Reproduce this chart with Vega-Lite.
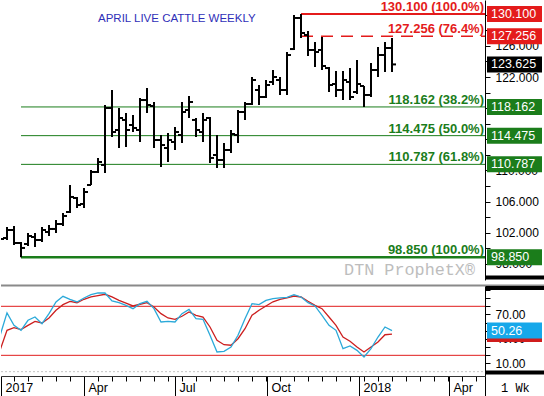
{
  "$schema": "https://vega.github.io/schema/vega-lite/v6.json",
  "padding": 0,
  "spacing": 3,
  "background": "white",
  "config": {
    "view": {"stroke": null},
    "axis": {"labelFont": "Liberation Sans", "grid": false},
    "text": {"font": "Liberation Sans"}
  },
  "resolve": {"scale": {"x": "shared", "y": "independent", "color": "independent"}},
  "datasets": {
    "weekly": [
      {"date": "2017-01-07", "open": 102.10, "high": 102.61, "low": 100.82, "close": 101.20, "k": 44, "d": 26},
      {"date": "2017-01-14", "open": 101.33, "high": 102.74, "low": 101.07, "close": 102.36, "k": 72, "d": 50.6},
      {"date": "2017-01-21", "open": 102.36, "high": 102.87, "low": 100.43, "close": 100.69, "k": 56.7, "d": 53.8},
      {"date": "2017-01-28", "open": 100.69, "high": 100.82, "low": 98.85, "close": 100.05, "k": 50.6, "d": 51.4},
      {"date": "2017-02-04", "open": 100.56, "high": 101.97, "low": 100.30, "close": 101.59, "k": 62.9, "d": 56.7},
      {"date": "2017-02-11", "open": 101.46, "high": 101.97, "low": 100.17, "close": 101.07, "k": 66.9, "d": 61.6},
      {"date": "2017-02-18", "open": 101.07, "high": 102.74, "low": 100.82, "close": 102.36, "k": 58.7, "d": 59.6},
      {"date": "2017-02-25", "open": 102.10, "high": 103.00, "low": 101.59, "close": 102.49, "k": 71, "d": 65.7},
      {"date": "2017-03-04", "open": 102.49, "high": 103.64, "low": 101.97, "close": 103.13, "k": 85.3, "d": 75.1},
      {"date": "2017-03-11", "open": 103.13, "high": 104.54, "low": 102.87, "close": 104.16, "k": 92.2, "d": 82},
      {"date": "2017-03-18", "open": 104.67, "high": 108.14, "low": 104.54, "close": 106.60, "k": 88.6, "d": 86.1},
      {"date": "2017-03-25", "open": 106.47, "high": 106.60, "low": 105.18, "close": 105.57, "k": 85.3, "d": 84.4},
      {"date": "2017-04-01", "open": 105.70, "high": 107.75, "low": 105.18, "close": 107.24, "k": 90.2, "d": 88.6},
      {"date": "2017-04-08", "open": 108.14, "high": 110.06, "low": 108.14, "close": 109.81, "k": 94.2, "d": 91.4},
      {"date": "2017-04-15", "open": 109.81, "high": 111.61, "low": 109.68, "close": 111.09, "k": 96.3, "d": 93.2},
      {"date": "2017-04-22", "open": 110.71, "high": 118.41, "low": 109.68, "close": 118.03, "k": 96.3, "d": 94.7},
      {"date": "2017-04-29", "open": 118.03, "high": 120.34, "low": 114.30, "close": 114.94, "k": 86.5, "d": 91.5},
      {"date": "2017-05-06", "open": 115.20, "high": 118.03, "low": 112.89, "close": 116.74, "k": 84.4, "d": 87.3},
      {"date": "2017-05-13", "open": 116.49, "high": 117.38, "low": 113.02, "close": 115.20, "k": 81.2, "d": 83.8},
      {"date": "2017-05-20", "open": 115.84, "high": 117.13, "low": 114.94, "close": 115.46, "k": 77.1, "d": 80.4},
      {"date": "2017-05-27", "open": 115.20, "high": 119.31, "low": 113.66, "close": 119.05, "k": 83.2, "d": 82.5},
      {"date": "2017-06-03", "open": 119.05, "high": 120.60, "low": 117.38, "close": 118.41, "k": 86.1, "d": 84.4},
      {"date": "2017-06-10", "open": 118.28, "high": 118.80, "low": 112.89, "close": 113.92, "k": 77.1, "d": 79.1},
      {"date": "2017-06-17", "open": 113.92, "high": 114.56, "low": 110.45, "close": 113.27, "k": 60.8, "d": 71},
      {"date": "2017-06-24", "open": 112.89, "high": 114.82, "low": 111.09, "close": 113.92, "k": 61.6, "d": 65.7},
      {"date": "2017-07-01", "open": 113.66, "high": 115.59, "low": 112.63, "close": 114.94, "k": 60.8, "d": 64.1},
      {"date": "2017-07-08", "open": 114.56, "high": 118.80, "low": 113.53, "close": 117.51, "k": 71, "d": 67.8},
      {"date": "2017-07-15", "open": 117.77, "high": 119.57, "low": 116.74, "close": 118.80, "k": 76.3, "d": 73},
      {"date": "2017-07-22", "open": 116.49, "high": 116.74, "low": 114.30, "close": 115.20, "k": 64.8, "d": 69},
      {"date": "2017-07-29", "open": 114.94, "high": 117.38, "low": 113.66, "close": 116.49, "k": 64.1, "d": 66.9},
      {"date": "2017-08-05", "open": 116.74, "high": 116.87, "low": 110.96, "close": 111.61, "k": 44.5, "d": 54.7},
      {"date": "2017-08-12", "open": 111.99, "high": 114.56, "low": 110.32, "close": 111.35, "k": 24.1, "d": 38.4},
      {"date": "2017-08-19", "open": 111.35, "high": 113.53, "low": 110.32, "close": 112.63, "k": 24.9, "d": 33},
      {"date": "2017-08-26", "open": 112.63, "high": 115.20, "low": 112.25, "close": 114.69, "k": 30.2, "d": 32.3},
      {"date": "2017-09-02", "open": 114.56, "high": 117.77, "low": 113.53, "close": 117.51, "k": 44.5, "d": 40.3},
      {"date": "2017-09-09", "open": 117.51, "high": 118.80, "low": 116.49, "close": 118.54, "k": 64.8, "d": 52.6},
      {"date": "2017-09-16", "open": 118.54, "high": 122.01, "low": 118.41, "close": 121.62, "k": 83.2, "d": 69},
      {"date": "2017-09-23", "open": 120.34, "high": 120.98, "low": 118.41, "close": 119.44, "k": 82, "d": 75.1},
      {"date": "2017-09-30", "open": 119.44, "high": 121.62, "low": 119.31, "close": 120.98, "k": 87.3, "d": 80.4},
      {"date": "2017-10-07", "open": 121.37, "high": 122.91, "low": 120.98, "close": 122.01, "k": 89.5, "d": 85.5},
      {"date": "2017-10-14", "open": 121.62, "high": 122.01, "low": 119.70, "close": 120.34, "k": 90.2, "d": 88.6},
      {"date": "2017-10-21", "open": 120.34, "high": 125.22, "low": 119.70, "close": 124.83, "k": 90.8, "d": 90.2},
      {"date": "2017-10-28", "open": 125.60, "high": 129.97, "low": 125.48, "close": 129.59, "k": 94.2, "d": 92.6},
      {"date": "2017-11-04", "open": 129.59, "high": 130.10, "low": 127.02, "close": 127.66, "k": 91.4, "d": 91.4},
      {"date": "2017-11-11", "open": 127.40, "high": 127.92, "low": 124.71, "close": 125.48, "k": 84.4, "d": 86.1},
      {"date": "2017-11-18", "open": 125.48, "high": 126.50, "low": 123.29, "close": 125.22, "k": 80.4, "d": 81.2},
      {"date": "2017-11-25", "open": 125.48, "high": 127.15, "low": 122.91, "close": 123.42, "k": 69, "d": 77.1},
      {"date": "2017-12-02", "open": 123.16, "high": 123.29, "low": 120.08, "close": 120.98, "k": 56.7, "d": 66.9},
      {"date": "2017-12-09", "open": 121.11, "high": 122.78, "low": 119.44, "close": 120.34, "k": 50.6, "d": 56.7},
      {"date": "2017-12-16", "open": 120.34, "high": 122.78, "low": 119.05, "close": 121.62, "k": 28.1, "d": 42.4},
      {"date": "2017-12-23", "open": 121.37, "high": 123.16, "low": 119.05, "close": 119.44, "k": 31.4, "d": 37.2},
      {"date": "2017-12-30", "open": 120.08, "high": 124.19, "low": 119.83, "close": 121.11, "k": 26.1, "d": 30.2},
      {"date": "2018-01-06", "open": 120.85, "high": 120.85, "low": 118.17, "close": 119.70, "k": 17.9, "d": 24.1},
      {"date": "2018-01-13", "open": 119.70, "high": 123.81, "low": 119.44, "close": 122.91, "k": 28.1, "d": 30.2},
      {"date": "2018-01-20", "open": 122.91, "high": 125.86, "low": 122.01, "close": 124.83, "k": 42.4, "d": 36.3},
      {"date": "2018-01-27", "open": 124.83, "high": 126.50, "low": 122.65, "close": 125.73, "k": 54.7, "d": 45.2},
      {"date": "2018-02-03", "open": 125.73, "high": 127.02, "low": 122.65, "close": 123.625, "k": 50.26, "d": 46}
    ],
    "fib": [
      {"price": 130.1, "label": "130.100 (100.0%)", "start": "2017-11-04", "kind": "resistance"},
      {"price": 127.256, "label": "127.256 (76.4%)", "start": "2017-11-04", "kind": "resistance"},
      {"price": 118.162, "label": "118.162 (38.2%)", "start": "2017-01-28", "kind": "support"},
      {"price": 114.475, "label": "114.475 (50.0%)", "start": "2017-01-28", "kind": "support"},
      {"price": 110.787, "label": "110.787 (61.8%)", "start": "2017-01-28", "kind": "support"},
      {"price": 98.85, "label": "98.850 (100.0%)", "start": "2017-01-28", "kind": "support"}
    ],
    "tags": [
      {"price": 130.1, "kind": "resistance"},
      {"price": 127.256, "kind": "resistance"},
      {"price": 123.625, "kind": "last"},
      {"price": 118.162, "kind": "support"},
      {"price": 114.475, "kind": "support"},
      {"price": 110.787, "kind": "support"},
      {"price": 98.85, "kind": "support"}
    ],
    "stochtags": [
      {"series": "%D", "value": 46},
      {"series": "%K", "value": 50.26}
    ]
  },
  "vconcat": [
    {
      "width": 484,
      "height": 280,
      "resolve": {"axis": {"y": "independent"}},
      "layer": [
        {
          "data": {"name": "fib"},
          "transform": [{"filter": {"field": "price", "oneOf": [118.162, 114.475, 110.787]}}],
          "mark": {"type": "rule", "color": "#1b7d1b", "strokeWidth": 1},
          "encoding": {
            "x": {"field": "start", "type": "temporal", "axis": null,
                  "scale": {"type": "utc", "domain": [{"year": 2017, "month": 1, "date": 8, "utc": true}, {"year": 2018, "month": 5, "date": 7, "utc": true}]}},
            "x2": {"datum": {"year": 2018, "month": 5, "date": 7, "utc": true}},
            "y": {"field": "price", "type": "quantitative",
                  "scale": {"domain": [95.935, 131.898], "nice": false, "zero": false},
                  "axis": {"orient": "right", "title": null, "values": [98, 100, 102, 104, 106, 108, 110, 112, 114, 116, 118, 120, 122, 124, 126, 128, 130],
                           "labelExpr": "(datum.value % 4 == 2 && datum.value != 114 && datum.value != 118 && datum.value != 130) ? format(datum.value, '.3f') : ''",
                           "tickSize": 5, "tickColor": "#000", "domainColor": "#000", "labelColor": "#000",
                           "labelFontSize": 12, "labelPadding": 5, "labelOverlap": false, "labelBound": false, "labelFlush": false}}
          }
        },
        {
          "data": {"name": "fib"},
          "transform": [{"filter": {"field": "price", "equal": 98.85}}],
          "mark": {"type": "rule", "color": "#1b7d1b", "strokeWidth": 2.5},
          "encoding": {
            "x": {"field": "start", "type": "temporal", "axis": null},
            "x2": {"datum": {"year": 2018, "month": 5, "date": 7, "utc": true}},
            "y": {"field": "price", "type": "quantitative", "axis": null}
          }
        },
        {
          "data": {"name": "fib"},
          "transform": [{"filter": {"field": "price", "equal": 130.1}}],
          "mark": {"type": "rule", "color": "#e41b1b", "strokeWidth": 2},
          "encoding": {
            "x": {"field": "start", "type": "temporal", "axis": null},
            "x2": {"datum": {"year": 2018, "month": 5, "date": 7, "utc": true}},
            "y": {"field": "price", "type": "quantitative", "axis": null}
          }
        },
        {
          "data": {"name": "fib"},
          "transform": [{"filter": {"field": "price", "equal": 127.256}}],
          "mark": {"type": "rule", "color": "#e41b1b", "strokeWidth": 1.5, "strokeDash": [12, 8]},
          "encoding": {
            "x": {"field": "start", "type": "temporal", "axis": null},
            "x2": {"datum": {"year": 2018, "month": 5, "date": 7, "utc": true}},
            "y": {"field": "price", "type": "quantitative", "axis": null}
          }
        },
        {
          "data": {"name": "weekly"},
          "mark": {"type": "rule", "color": "#000", "strokeWidth": 2, "clip": true},
          "encoding": {
            "x": {"field": "date", "type": "temporal", "axis": null},
            "y": {"field": "low", "type": "quantitative", "axis": null},
            "y2": {"field": "high"}
          }
        },
        {
          "data": {"name": "weekly"},
          "mark": {"type": "rule", "color": "#000", "strokeWidth": 2, "clip": true, "xOffset": -4},
          "encoding": {
            "x": {"field": "date", "type": "temporal", "axis": null},
            "x2": {"field": "date"},
            "y": {"field": "open", "type": "quantitative", "axis": null}
          }
        },
        {
          "data": {"name": "weekly"},
          "mark": {"type": "rule", "color": "#000", "strokeWidth": 2, "clip": true, "x2Offset": 4},
          "encoding": {
            "x": {"field": "date", "type": "temporal", "axis": null},
            "x2": {"field": "date"},
            "y": {"field": "close", "type": "quantitative", "axis": null}
          }
        },
        {
          "data": {"name": "fib"},
          "mark": {"type": "text", "align": "right", "baseline": "alphabetic", "dy": -3, "fontSize": 13, "fontWeight": "bold"},
          "encoding": {
            "x": {"datum": {"year": 2018, "month": 5, "date": 6, "utc": true}, "type": "temporal", "axis": null},
            "y": {"field": "price", "type": "quantitative", "axis": null},
            "text": {"field": "label"},
            "color": {"field": "kind", "type": "nominal", "legend": null,
                      "scale": {"domain": ["resistance", "last", "support"], "range": ["#e41b1b", "#000000", "#1b7d1b"]}}
          }
        },
        {
          "data": {"values": [{"title": "APRIL LIVE CATTLE WEEKLY"}]},
          "mark": {"type": "text", "align": "left", "baseline": "alphabetic", "fontSize": 11.5, "color": "#2f2fb8"},
          "encoding": {
            "x": {"datum": {"year": 2017, "month": 4, "date": 15, "utc": true}, "type": "temporal", "axis": null},
            "y": {"datum": 129.07, "type": "quantitative", "axis": null},
            "text": {"field": "title"}
          }
        },
        {
          "data": {"values": [{"mark": "DTN ProphetX®"}]},
          "mark": {"type": "text", "align": "right", "baseline": "alphabetic", "font": "Liberation Mono", "fontSize": 16.8, "color": "#bdbdbd"},
          "encoding": {
            "x": {"datum": {"year": 2018, "month": 4, "date": 27, "utc": true}, "type": "temporal", "axis": null},
            "y": {"datum": 96.58, "type": "quantitative", "axis": null},
            "text": {"field": "mark"}
          }
        },
        {
          "data": {"name": "tags"},
          "mark": {"type": "rect", "yOffset": -8, "y2Offset": 8, "clip": false},
          "encoding": {
            "x": {"datum": {"year": 2018, "month": 5, "date": 9, "utc": true}, "type": "temporal", "axis": null},
            "x2": {"datum": {"year": 2018, "month": 7, "date": 3, "utc": true}},
            "y": {"field": "price", "type": "quantitative", "axis": null},
            "y2": {"field": "price"},
            "color": {"field": "kind", "type": "nominal", "legend": null,
                      "scale": {"domain": ["resistance", "last", "support"], "range": ["#e41b1b", "#000000", "#1b7d1b"]}}
          }
        },
        {
          "data": {"name": "tags"},
          "mark": {"type": "text", "align": "left", "baseline": "middle", "fontSize": 12.5, "color": "#ffffff", "clip": false},
          "encoding": {
            "x": {"datum": {"year": 2018, "month": 5, "date": 13, "utc": true}, "type": "temporal", "axis": null},
            "y": {"field": "price", "type": "quantitative", "axis": null},
            "text": {"field": "price", "type": "quantitative", "format": ".3f"}
          }
        },
        {
          "data": {"values": [{}]},
          "mark": {"type": "rule", "color": "#000", "strokeWidth": 4, "clip": false},
          "encoding": {
            "x": {"datum": {"year": 2018, "month": 5, "date": 8, "utc": true}, "type": "temporal", "axis": null},
            "x2": {"datum": {"year": 2018, "month": 7, "date": 6, "utc": true}},
            "y": {"datum": 96.26, "type": "quantitative", "axis": null}
          }
        }
      ]
    },
    {
      "width": 484,
      "height": 91,
      "resolve": {"axis": {"x": "independent", "y": "independent"}},
      "layer": [
        {
          "data": {"values": [{}]},
          "mark": {"type": "rule", "color": "#8a8a8a", "strokeWidth": 2, "clip": false},
          "encoding": {
            "x": {"datum": {"year": 2017, "month": 1, "date": 8, "utc": true}, "type": "temporal", "axis": null,
                  "scale": {"type": "utc", "domain": [{"year": 2017, "month": 1, "date": 8, "utc": true}, {"year": 2018, "month": 5, "date": 7, "utc": true}]}},
            "x2": {"datum": {"year": 2018, "month": 7, "date": 6, "utc": true}},
            "y": {"datum": 105.4, "type": "quantitative", "axis": null,
                  "scale": {"domain": [-5.31, 106.07], "nice": false, "zero": false}}
          }
        },
        {
          "data": {"values": [{}]},
          "mark": {"type": "rule", "color": "#c4c4c4", "strokeWidth": 1, "strokeDash": [2, 2]},
          "encoding": {
            "x": {"datum": {"year": 2017, "month": 1, "date": 8, "utc": true}, "type": "temporal", "axis": null},
            "x2": {"datum": {"year": 2018, "month": 5, "date": 7, "utc": true}},
            "y": {"datum": 0, "type": "quantitative", "axis": null}
          }
        },
        {
          "data": {"values": [{"level": 80}, {"level": 20}]},
          "mark": {"type": "rule", "color": "#e01b1b", "strokeWidth": 1},
          "encoding": {
            "x": {"datum": {"year": 2017, "month": 1, "date": 8, "utc": true}, "type": "temporal", "axis": null},
            "x2": {"datum": {"year": 2018, "month": 5, "date": 7, "utc": true}},
            "y": {"field": "level", "type": "quantitative", "axis": null}
          }
        },
        {
          "data": {"name": "weekly"},
          "mark": {"type": "line", "color": "#cc1f1f", "strokeWidth": 1.3, "clip": true},
          "encoding": {
            "x": {"field": "date", "type": "temporal",
                  "axis": {"orient": "bottom", "title": null, "labels": false, "domain": false, "tickSize": 5, "tickColor": "#000",
                           "values": [
                             {"year": 2017, "month": 1, "date": 21, "utc": true}, {"year": 2017, "month": 2, "date": 4, "utc": true},
                             {"year": 2017, "month": 2, "date": 18, "utc": true}, {"year": 2017, "month": 3, "date": 4, "utc": true},
                             {"year": 2017, "month": 3, "date": 18, "utc": true}, {"year": 2017, "month": 4, "date": 15, "utc": true},
                             {"year": 2017, "month": 4, "date": 29, "utc": true}, {"year": 2017, "month": 5, "date": 13, "utc": true},
                             {"year": 2017, "month": 5, "date": 27, "utc": true}, {"year": 2017, "month": 6, "date": 10, "utc": true},
                             {"year": 2017, "month": 6, "date": 24, "utc": true}, {"year": 2017, "month": 7, "date": 8, "utc": true},
                             {"year": 2017, "month": 7, "date": 22, "utc": true}, {"year": 2017, "month": 8, "date": 5, "utc": true},
                             {"year": 2017, "month": 8, "date": 19, "utc": true}, {"year": 2017, "month": 9, "date": 2, "utc": true},
                             {"year": 2017, "month": 9, "date": 16, "utc": true}, {"year": 2017, "month": 9, "date": 30, "utc": true},
                             {"year": 2017, "month": 10, "date": 14, "utc": true}, {"year": 2017, "month": 10, "date": 28, "utc": true},
                             {"year": 2017, "month": 11, "date": 11, "utc": true}, {"year": 2017, "month": 11, "date": 25, "utc": true},
                             {"year": 2017, "month": 12, "date": 9, "utc": true}, {"year": 2017, "month": 12, "date": 23, "utc": true},
                             {"year": 2018, "month": 1, "date": 6, "utc": true}, {"year": 2018, "month": 1, "date": 20, "utc": true},
                             {"year": 2018, "month": 2, "date": 3, "utc": true}, {"year": 2018, "month": 2, "date": 17, "utc": true},
                             {"year": 2018, "month": 3, "date": 3, "utc": true}, {"year": 2018, "month": 3, "date": 17, "utc": true},
                             {"year": 2018, "month": 3, "date": 31, "utc": true}, {"year": 2018, "month": 4, "date": 14, "utc": true},
                             {"year": 2018, "month": 4, "date": 28, "utc": true}
                           ]}},
            "y": {"field": "d", "type": "quantitative", "axis": null}
          }
        },
        {
          "data": {"name": "weekly"},
          "mark": {"type": "line", "color": "#2ba9d9", "strokeWidth": 1.3, "clip": true},
          "encoding": {
            "x": {"field": "date", "type": "temporal",
                  "axis": {"orient": "bottom", "title": null, "tickSize": 22, "tickColor": "#000", "domainColor": "#333",
                           "labelAlign": "left", "labelBaseline": "top", "labelOffset": 4, "labelPadding": -17,
                           "labelFontSize": 12.5, "labelColor": "#000", "labelOverlap": false, "labelFlush": false, "labelBound": false,
                           "values": [
                             {"year": 2017, "month": 1, "date": 8, "utc": true}, {"year": 2017, "month": 4, "date": 1, "utc": true},
                             {"year": 2017, "month": 7, "date": 1, "utc": true}, {"year": 2017, "month": 10, "date": 1, "utc": true},
                             {"year": 2018, "month": 1, "date": 1, "utc": true}, {"year": 2018, "month": 4, "date": 1, "utc": true},
                             {"year": 2018, "month": 5, "date": 7, "utc": true}
                           ],
                           "labelExpr": "utcFormat(datum.value, '%m-%d') == '05-07' ? '' : (utcFormat(datum.value, '%m') == '01' ? utcFormat(datum.value, '%Y') : utcFormat(datum.value, '%b'))"}},
            "y": {"field": "k", "type": "quantitative",
                  "axis": {"orient": "right", "title": null, "values": [0, 10, 20, 30, 40, 50, 60, 70, 80, 90, 100],
                           "labelExpr": "(datum.value == 10 || datum.value == 40 || datum.value == 70) ? format(datum.value, '.2f') : ''",
                           "tickSize": 5, "tickColor": "#000", "domainColor": "#000", "labelColor": "#000",
                           "labelFontSize": 12, "labelPadding": 5, "labelOverlap": false, "labelBound": false, "labelFlush": false}}
          }
        },
        {
          "data": {"name": "stochtags"},
          "mark": {"type": "rect", "yOffset": -8, "y2Offset": 8, "clip": false},
          "encoding": {
            "x": {"datum": {"year": 2018, "month": 5, "date": 9, "utc": true}, "type": "temporal", "axis": null},
            "x2": {"datum": {"year": 2018, "month": 7, "date": 3, "utc": true}},
            "y": {"field": "value", "type": "quantitative", "axis": null},
            "y2": {"field": "value"},
            "color": {"field": "series", "type": "nominal", "legend": null,
                      "scale": {"domain": ["%D", "%K"], "range": ["#d01c1c", "#16a8ea"]}}
          }
        },
        {
          "data": {"name": "stochtags"},
          "transform": [{"filter": {"field": "series", "equal": "%K"}}],
          "mark": {"type": "text", "align": "left", "baseline": "middle", "fontSize": 12.5, "color": "#ffffff", "clip": false},
          "encoding": {
            "x": {"datum": {"year": 2018, "month": 5, "date": 13, "utc": true}, "type": "temporal", "axis": null},
            "y": {"field": "value", "type": "quantitative", "axis": null},
            "text": {"field": "value", "type": "quantitative", "format": ".2f"}
          }
        },
        {
          "data": {"values": [{"edge": 102.4}, {"edge": -1.0}]},
          "mark": {"type": "rule", "color": "#000", "strokeWidth": 4, "clip": false},
          "encoding": {
            "x": {"datum": {"year": 2018, "month": 5, "date": 8, "utc": true}, "type": "temporal", "axis": null},
            "x2": {"datum": {"year": 2018, "month": 7, "date": 6, "utc": true}},
            "y": {"field": "edge", "type": "quantitative", "axis": null}
          }
        },
        {
          "data": {"values": [{"t": "1 Wk"}]},
          "mark": {"type": "text", "align": "left", "baseline": "middle", "font": "Liberation Mono", "fontSize": 12, "color": "#000", "clip": false},
          "encoding": {
            "x": {"datum": {"year": 2018, "month": 5, "date": 23, "utc": true}, "type": "temporal", "axis": null},
            "y": {"datum": -20, "type": "quantitative", "axis": null},
            "text": {"field": "t"}
          }
        }
      ]
    }
  ]
}
